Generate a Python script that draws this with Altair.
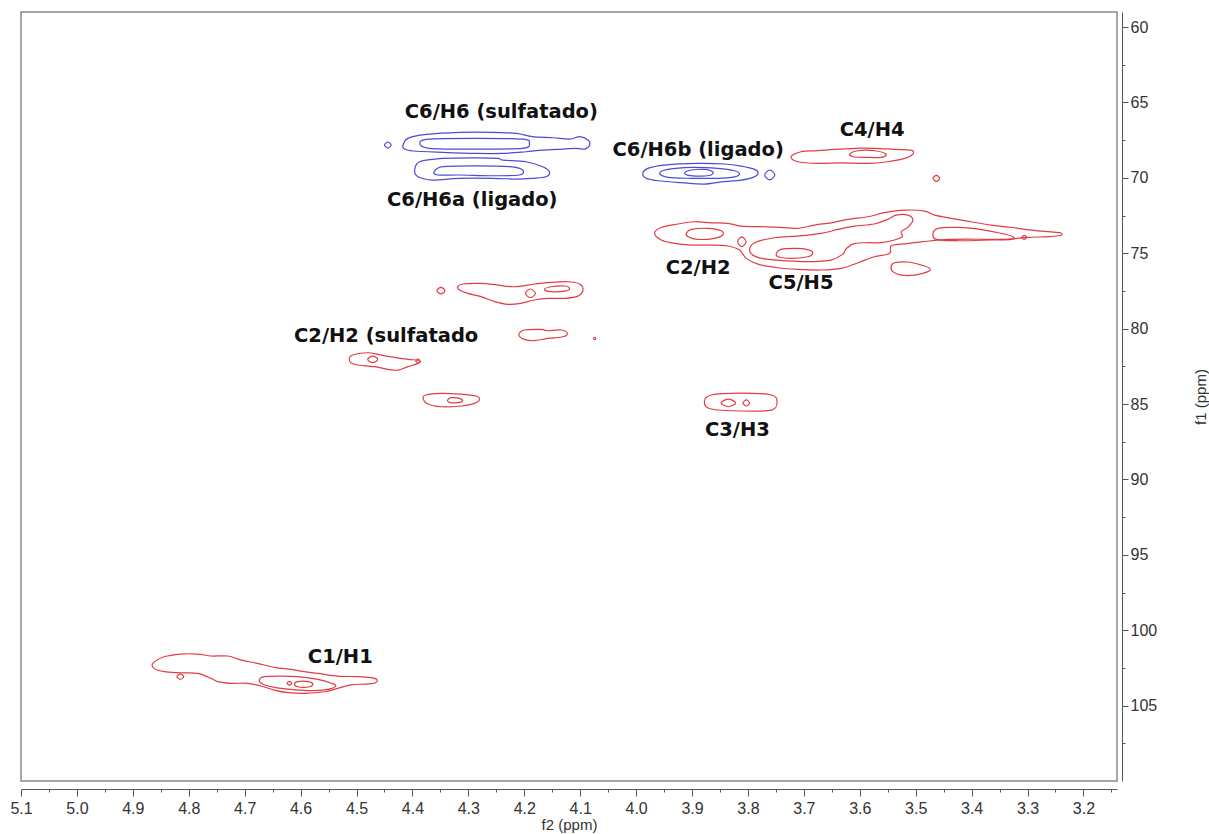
import altair as alt
import pandas as pd

RED = "#e23b45"
BLUE = "#4b4bd8"

# ---------------- tick values (ppm) ----------------
x_major = [5.1, 5.0, 4.9, 4.8, 4.7, 4.6, 4.5, 4.4, 4.3, 4.2, 4.1, 4.0, 3.9, 3.8, 3.7, 3.6, 3.5, 3.4, 3.3, 3.2]
x_minor = [5.05, 4.95, 4.85, 4.75, 4.65, 4.55, 4.45, 4.35, 4.25, 4.15, 4.05, 3.95, 3.85, 3.75, 3.65, 3.55, 3.45, 3.35, 3.25, 3.15]
y_major = [60, 65, 70, 75, 80, 85, 90, 95, 100, 105]
y_minor = [62.5, 67.5, 72.5, 77.5, 82.5, 87.5, 92.5, 97.5, 102.5, 107.5]

# ---------------- contour outlines (f2 ppm, f1 ppm) ----------------
# negative (blue) contours
c6h6_outer = [(4.417, 67.87), (4.408, 67.38), (4.375, 67.12), (4.316, 66.98), (4.256, 66.98), (4.214, 67.05),
              (4.185, 67.27), (4.149, 67.34), (4.119, 67.43), (4.101, 67.27), (4.086, 67.49), (4.083, 67.82),
              (4.092, 68.09), (4.107, 68.04), (4.131, 68.09), (4.167, 68.16), (4.197, 68.27), (4.238, 68.38),
              (4.286, 68.38), (4.346, 68.31), (4.399, 68.22), (4.414, 68.09)]
c6h6_inner = [(4.387, 67.71), (4.370, 67.43), (4.286, 67.38), (4.203, 67.43), (4.191, 67.71), (4.203, 68.04),
              (4.286, 68.09), (4.370, 68.04)]
c6h6a_outer = [(4.396, 69.48), (4.387, 68.93), (4.346, 68.71), (4.286, 68.67), (4.247, 68.71), (4.238, 68.82),
               (4.197, 68.93), (4.167, 69.26), (4.155, 69.60), (4.161, 69.93), (4.185, 70.03), (4.214, 70.08),
               (4.256, 70.03), (4.316, 70.03), (4.364, 70.15), (4.390, 69.93)]
c6h6a_inner = [(4.361, 69.60), (4.346, 69.26), (4.286, 69.20), (4.226, 69.26), (4.203, 69.48), (4.209, 69.81),
               (4.256, 69.86), (4.316, 69.81), (4.355, 69.81)]
blue_dot_a = [(4.450, 67.82), (4.444, 67.62), (4.438, 67.82), (4.444, 68.02)]
c6h6b_outer = [(3.988, 69.70), (3.979, 69.37), (3.949, 69.15), (3.889, 69.04), (3.842, 69.08), (3.812, 69.22),
               (3.788, 69.44), (3.782, 69.70), (3.791, 69.97), (3.812, 70.15), (3.848, 70.26), (3.878, 70.41),
               (3.919, 70.32), (3.961, 70.19), (3.982, 70.03)]
c6h6b_mid = [(3.958, 69.70), (3.943, 69.44), (3.901, 69.30), (3.854, 69.37), (3.824, 69.53), (3.815, 69.75),
             (3.824, 69.93), (3.854, 70.03), (3.901, 70.03), (3.943, 69.97)]
c6h6b_inner = [(3.913, 69.66), (3.901, 69.48), (3.878, 69.44), (3.863, 69.60), (3.866, 69.81), (3.883, 69.88),
               (3.907, 69.83)]
blue_dot_b = [(3.770, 69.81), (3.761, 69.48), (3.752, 69.81), (3.761, 70.14)]

# positive (red) contours
c4h4_outer = [(3.723, 68.60), (3.705, 68.27), (3.675, 68.20), (3.645, 68.11), (3.609, 68.04), (3.574, 68.04),
              (3.538, 68.11), (3.508, 68.16), (3.505, 68.42), (3.520, 68.71), (3.550, 68.93), (3.585, 69.04),
              (3.633, 69.00), (3.675, 69.04), (3.711, 68.93)]
c4h4_inner = [(3.618, 68.42), (3.603, 68.20), (3.574, 68.20), (3.553, 68.42), (3.562, 68.64), (3.591, 68.64),
              (3.612, 68.60)]
red_dot_a = [(3.469, 70.03), (3.463, 69.83), (3.457, 70.03), (3.463, 70.23)]
big_outer = [(3.967, 73.68), (3.955, 73.29), (3.925, 73.06), (3.896, 72.91), (3.866, 72.98), (3.836, 73.02),
             (3.812, 73.20), (3.776, 73.24), (3.741, 73.29), (3.711, 73.35), (3.681, 73.13), (3.651, 72.98),
             (3.621, 72.75), (3.585, 72.58), (3.556, 72.31), (3.520, 72.14), (3.484, 72.20), (3.466, 72.47),
             (3.436, 72.69), (3.401, 72.91), (3.365, 73.13), (3.329, 73.29), (3.293, 73.46), (3.263, 73.57),
             (3.241, 73.64), (3.241, 73.82), (3.263, 73.90), (3.299, 73.95), (3.335, 74.06), (3.371, 74.08),
             (3.407, 74.06), (3.442, 74.08), (3.472, 74.17), (3.502, 74.30), (3.526, 74.39), (3.544, 74.52),
             (3.547, 75.01), (3.574, 75.23), (3.603, 75.63), (3.633, 76.00), (3.669, 76.11), (3.711, 76.07),
             (3.746, 75.96), (3.782, 75.72), (3.803, 75.34), (3.815, 74.79), (3.836, 74.52), (3.872, 74.46),
             (3.902, 74.46), (3.931, 74.35), (3.955, 74.12)]
c5h5_mid = [(3.797, 74.79), (3.788, 74.30), (3.752, 73.97), (3.711, 73.86), (3.669, 73.68), (3.639, 73.42),
            (3.609, 73.20), (3.574, 73.06), (3.550, 72.75), (3.535, 72.47), (3.514, 72.47), (3.505, 72.80),
            (3.514, 73.28), (3.526, 73.57), (3.524, 73.90), (3.538, 74.12), (3.562, 74.30), (3.585, 74.30),
            (3.609, 74.35), (3.624, 74.68), (3.630, 75.05), (3.651, 75.45), (3.693, 75.56), (3.729, 75.50),
            (3.764, 75.41), (3.788, 75.19)]
c5h5_inner = [(3.749, 75.01), (3.741, 74.74), (3.711, 74.68), (3.690, 74.79), (3.684, 75.01), (3.693, 75.23),
              (3.723, 75.34), (3.746, 75.23)]
c2h2_inner = [(3.910, 73.68), (3.901, 73.42), (3.872, 73.35), (3.848, 73.51), (3.845, 73.79), (3.860, 74.01),
              (3.890, 74.08), (3.907, 73.90)]
c2h2_dot = [(3.8185, 74.24), (3.811, 73.91), (3.8035, 74.24), (3.811, 74.57)]
right_lobe = [(3.469, 73.68), (3.460, 73.35), (3.424, 73.29), (3.377, 73.46), (3.347, 73.68), (3.326, 73.90),
              (3.329, 74.08), (3.365, 74.12), (3.424, 74.17), (3.463, 74.08)]
right_dot = [(3.3105, 73.95), (3.306, 73.82), (3.3015, 73.95), (3.306, 74.08)]
lower_35 = [(3.544, 75.89), (3.538, 75.63), (3.514, 75.58), (3.490, 75.78), (3.475, 76.00), (3.478, 76.22),
            (3.502, 76.45), (3.526, 76.45), (3.541, 76.22)]
p77_outer = [(4.319, 77.22), (4.310, 77.04), (4.277, 77.00), (4.247, 77.11), (4.218, 77.22), (4.182, 77.04),
             (4.158, 76.95), (4.122, 76.89), (4.101, 77.04), (4.095, 77.44), (4.104, 77.84), (4.128, 77.99),
             (4.158, 77.99), (4.182, 78.10), (4.206, 78.32), (4.229, 78.39), (4.253, 78.21), (4.277, 77.88),
             (4.301, 77.66), (4.316, 77.44)]
p77_in1 = [(4.198, 77.66), (4.189, 77.37), (4.180, 77.66), (4.189, 77.95)]
p77_in2 = [(4.164, 77.40), (4.152, 77.22), (4.128, 77.17), (4.119, 77.33), (4.128, 77.51), (4.152, 77.55)]
p77_dot = [(4.356, 77.48), (4.349, 77.26), (4.342, 77.48), (4.349, 77.70)]
p80_outer = [(4.209, 80.31), (4.200, 80.09), (4.170, 80.05), (4.158, 80.14), (4.134, 80.09), (4.123, 80.31),
             (4.131, 80.54), (4.158, 80.65), (4.182, 80.80), (4.200, 80.71), (4.209, 80.49)]
p80_dot = [(4.076, 80.65), (4.074, 80.57), (4.072, 80.65), (4.074, 80.73)]
c2h2s_outer = [(4.513, 81.97), (4.507, 81.75), (4.480, 81.60), (4.456, 81.75), (4.432, 81.91), (4.408, 82.04),
               (4.393, 82.08), (4.386, 82.19), (4.393, 82.35), (4.408, 82.52), (4.426, 82.75), (4.444, 82.70),
               (4.468, 82.52), (4.498, 82.41), (4.510, 82.26)]
c2h2s_inner = [(4.480, 82.04), (4.471, 81.82), (4.462, 82.04), (4.471, 82.26)]
c2h2s_loop = [(4.394, 82.15), (4.390, 82.02), (4.386, 82.15), (4.390, 82.28)]
p84_outer = [(4.381, 84.62), (4.376, 84.40), (4.349, 84.29), (4.313, 84.34), (4.286, 84.47), (4.280, 84.69),
             (4.289, 84.96), (4.313, 85.13), (4.349, 85.18), (4.372, 85.00)]
p84_inner = [(4.337, 84.73), (4.331, 84.58), (4.316, 84.62), (4.310, 84.78), (4.319, 84.91), (4.334, 84.89)]
c3h3_outer = [(3.878, 84.87), (3.866, 84.40), (3.812, 84.27), (3.758, 84.40), (3.748, 84.87), (3.758, 85.40),
              (3.812, 85.46), (3.866, 85.33)]
c3h3_in1 = [(3.848, 84.93), (3.835, 84.68), (3.822, 84.93), (3.835, 85.18)]
c3h3_in2 = [(3.809, 84.93), (3.803, 84.73), (3.797, 84.93), (3.803, 85.13)]
c1h1_outer = [(4.864, 102.20), (4.844, 101.76), (4.814, 101.58), (4.784, 101.58), (4.760, 101.71), (4.730, 101.71),
              (4.706, 101.98), (4.677, 102.20), (4.647, 102.46), (4.617, 102.60), (4.593, 102.75), (4.569, 102.86),
              (4.534, 103.04), (4.498, 103.08), (4.474, 103.15), (4.463, 103.30), (4.468, 103.52), (4.486, 103.57),
              (4.510, 103.63), (4.534, 103.86), (4.557, 104.08), (4.593, 104.19), (4.623, 104.14), (4.647, 103.97),
              (4.671, 103.70), (4.695, 103.52), (4.724, 103.52), (4.748, 103.41), (4.760, 103.19), (4.784, 102.86),
              (4.814, 102.82), (4.844, 102.75), (4.862, 102.53)]
c1h1_mid = [(4.674, 103.30), (4.665, 103.08), (4.635, 103.04), (4.605, 103.08), (4.569, 103.26), (4.545, 103.52),
            (4.537, 103.70), (4.551, 103.92), (4.581, 104.01), (4.617, 103.92), (4.647, 103.79), (4.668, 103.57)]
c1h1_inner = [(4.611, 103.57), (4.605, 103.41), (4.587, 103.41), (4.578, 103.57), (4.584, 103.75), (4.605, 103.75)]
c1h1_loop = [(4.624, 103.52), (4.620, 103.39), (4.616, 103.52), (4.620, 103.65)]
c1h1_dot = [(4.821, 103.08), (4.815, 102.90), (4.809, 103.08), (4.815, 103.26)]

CONTOURS = [
    ("c6h6_outer", "neg", c6h6_outer), ("c6h6_inner", "neg", c6h6_inner),
    ("c6h6a_outer", "neg", c6h6a_outer), ("c6h6a_inner", "neg", c6h6a_inner),
    ("blue_dot_a", "neg", blue_dot_a), ("c6h6b_outer", "neg", c6h6b_outer),
    ("c6h6b_mid", "neg", c6h6b_mid), ("c6h6b_inner", "neg", c6h6b_inner),
    ("blue_dot_b", "neg", blue_dot_b),
    ("c4h4_outer", "pos", c4h4_outer), ("c4h4_inner", "pos", c4h4_inner), ("red_dot_a", "pos", red_dot_a),
    ("big_outer", "pos", big_outer), ("c5h5_mid", "pos", c5h5_mid), ("c5h5_inner", "pos", c5h5_inner),
    ("c2h2_inner", "pos", c2h2_inner), ("c2h2_dot", "pos", c2h2_dot), ("right_lobe", "pos", right_lobe),
    ("right_dot", "pos", right_dot), ("lower_35", "pos", lower_35),
    ("p77_outer", "pos", p77_outer), ("p77_in1", "pos", p77_in1), ("p77_in2", "pos", p77_in2),
    ("p77_dot", "pos", p77_dot), ("p80_outer", "pos", p80_outer), ("p80_dot", "pos", p80_dot),
    ("c2h2s_outer", "pos", c2h2s_outer), ("c2h2s_inner", "pos", c2h2s_inner), ("c2h2s_loop", "pos", c2h2s_loop),
    ("p84_outer", "pos", p84_outer), ("p84_inner", "pos", p84_inner),
    ("c3h3_outer", "pos", c3h3_outer), ("c3h3_in1", "pos", c3h3_in1), ("c3h3_in2", "pos", c3h3_in2),
    ("c1h1_outer", "pos", c1h1_outer), ("c1h1_mid", "pos", c1h1_mid), ("c1h1_inner", "pos", c1h1_inner),
    ("c1h1_loop", "pos", c1h1_loop), ("c1h1_dot", "pos", c1h1_dot),
]

# ---------------- peak labels ----------------
label_text = ["C6/H6 (sulfatado)", "C6/H6a (ligado)", "C6/H6b (ligado)", "C4/H4", "C2/H2",
              "C5/H5", "C2/H2 (sulfatado", "C3/H3", "C1/H1"]
label_x = [4.241, 4.293, 3.889, 3.578, 3.889, 3.705, 4.447, 3.819, 4.529]
label_y = [65.64, 71.47, 68.16, 66.83, 75.98, 76.98, 80.49, 86.72, 101.78]

rows = []
for name, sign, pts in CONTOURS:
    for i, (px, py) in enumerate(pts):
        rows.append({"cid": name, "sign": sign, "i": i, "x": px, "y": py})
df = pd.DataFrame(rows)
labels = pd.DataFrame({"x": label_x, "y": label_y, "label": label_text})

x_vals = sorted(x_major + x_minor, reverse=True)
y_vals = sorted(y_major + y_minor)

x_major_test = "abs(datum.value*10 - round(datum.value*10)) < 0.01"
y_major_test = "datum.value % 5 == 0"

xscale = alt.Scale(domain=[3.14, 5.1], reverse=True, nice=False, zero=False)
yscale = alt.Scale(domain=[59, 110], reverse=True, nice=False, zero=False)

xaxis = alt.Axis(
    values=x_vals, title="f2 (ppm)", orient="bottom", offset=8, grid=False,
    domainColor="#555555", domainWidth=1, tickColor="#555555", tickWidth=1,
    tickSize={"condition": {"test": x_major_test, "value": 7}, "value": 3},
    labelExpr=x_major_test + " ? format(datum.value, '.1f') : ''",
    labelFont="Liberation Sans", labelFontSize=16, labelColor="#333333", labelPadding=4,
    labelOverlap=False, labelFlush=False,
    titleFont="Liberation Sans", titleFontSize=15, titleFontWeight="normal", titleColor="#333333",
    titlePadding=1,
)
yaxis = alt.Axis(
    values=y_vals, title="f1 (ppm)", orient="right", offset=5, grid=False,
    domainColor="#555555", domainWidth=1, tickColor="#555555", tickWidth=1,
    tickSize={"condition": {"test": y_major_test, "value": 6}, "value": 3},
    labelExpr=y_major_test + " ? format(datum.value, 'd') : ''",
    labelFont="Liberation Sans", labelFontSize=16, labelColor="#333333", labelPadding=2,
    labelOverlap=False, labelFlush=False,
    titleFont="Liberation Sans", titleFontSize=15, titleFontWeight="normal", titleColor="#333333",
    titleAngle=270, titlePadding=52,
)

contours = alt.Chart(df).mark_line(interpolate="cardinal-closed", strokeWidth=1.2, clip=True).encode(
    x=alt.X("x:Q", scale=xscale, axis=xaxis),
    y=alt.Y("y:Q", scale=yscale, axis=yaxis),
    color=alt.Color("sign:N", scale=alt.Scale(domain=["pos", "neg"], range=[RED, BLUE]), legend=None),
    detail="cid:N",
    order="i:Q",
)

texts = alt.Chart(labels).mark_text(
    font="DejaVu Sans", fontWeight="bold", fontSize=19.5, color="#111111", align="center", baseline="middle"
).encode(
    x=alt.X("x:Q", scale=xscale, axis=xaxis),
    y=alt.Y("y:Q", scale=yscale, axis=yaxis),
    text="label:N",
)

chart = alt.layer(contours, texts).properties(
    width=1096, height=769, autosize="none",
    padding={"left": 21, "top": 12, "right": 92, "bottom": 53},
    background="white",
).configure_view(stroke="#8a8a8a", strokeWidth=1.5)

chart.save("out.html", embed_options={"renderer": "svg", "actions": False})
